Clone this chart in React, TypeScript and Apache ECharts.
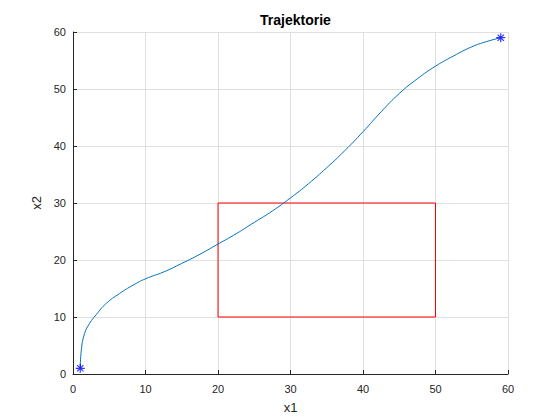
import React, { useEffect, useRef } from "react";
import * as echarts from "echarts";

const titleText = "Trajektorie";
const xName = "x1";
const yName = "x2";

const x1Traj = [1, 1.15, 1.6, 2.3, 3.2, 4.6, 6.4, 8.3, 10, 12.5, 15, 17.5, 20, 22.5, 25, 27.5, 30, 32.5, 35, 37.5, 40, 42.5, 45, 47.5, 50, 52.5, 55, 57, 59];
const x2Traj = [1, 4.2, 7.1, 8.9, 10.4, 12.4, 14.1, 15.6, 16.7, 17.9, 19.4, 21, 22.8, 24.6, 26.6, 28.6, 30.9, 33.4, 36.2, 39.2, 42.5, 46, 49.2, 51.8, 54, 55.8, 57.4, 58.3, 59];

const rectX = [20, 50, 50, 20];
const rectY = [10, 10, 30, 30];

const markerX = [1, 59];
const markerY = [1, 59];

const asterisk =
  "path://M5,0L5,10M0,5L10,5M1.5,1.5L8.5,8.5M1.5,8.5L8.5,1.5";

const FONT = "'Liberation Sans', Arial, Helvetica, sans-serif";

export default function App() {
  const ref = useRef<HTMLDivElement>(null);
  useEffect(() => {
    if (!ref.current) return;
    const chart = echarts.init(ref.current, undefined, { renderer: "svg" });
    const axisCommon = {
      type: "value" as const,
      min: 0,
      max: 60,
      interval: 10,
      nameLocation: "middle" as const,
      nameTextStyle: { fontFamily: FONT, fontSize: 13, color: "#262626" },
      axisLine: { show: true, onZero: false, lineStyle: { color: "#262626", width: 1 } },
      axisTick: { show: true, inside: true, length: 4, lineStyle: { color: "#262626" } },
      axisLabel: { fontFamily: FONT, fontSize: 11, color: "#262626" },
      splitLine: { show: true, lineStyle: { color: "#dfdfdf", width: 1 } },
    };
    chart.setOption({
      animation: false,
      backgroundColor: "#ffffff",
      title: {
        text: titleText,
        left: 290.5,
        top: 8,
        textAlign: "center",
        textStyle: { fontFamily: FONT, fontSize: 14, fontWeight: "bold", color: "#000000" },
      },
      grid: { left: 73, right: 52, top: 32, bottom: 46, containLabel: false },
      xAxis: {
        ...axisCommon,
        name: xName,
        nameGap: 27,
        axisLabel: { ...axisCommon.axisLabel, margin: 9 },
      },
      yAxis: {
        ...axisCommon,
        name: yName,
        nameGap: 26,
        axisLabel: { ...axisCommon.axisLabel, margin: 7 },
      },
      series: [
        {
          type: "line",
          data: x1Traj.map((x, i) => [x, x2Traj[i]]),
          smooth: 0.5,
          showSymbol: false,
          lineStyle: { color: "#0072BD", width: 1 },
          z: 3,
        },
        {
          type: "custom",
          data: [0],
          renderItem: (_params: any, api: any) => {
            const pts = rectX.map((x, i) => api.coord([x, rectY[i]]));
            return {
              type: "polygon",
              shape: { points: pts },
              style: { fill: "none", stroke: "#ff0000", lineWidth: 1 },
            };
          },
          z: 2,
        },
        {
          type: "scatter",
          data: markerX.map((x, i) => [x, markerY[i]]),
          symbol: asterisk,
          symbolSize: 9,
          itemStyle: { color: "rgba(0,0,0,0)", borderColor: "#0000ff", borderWidth: 1.2 },
          z: 4,
        },
      ],
    });
    return () => chart.dispose();
  }, []);
  return <div ref={ref} style={{ width: 560, height: 420, position: "fixed", left: 0, top: 0 }} />;
}
